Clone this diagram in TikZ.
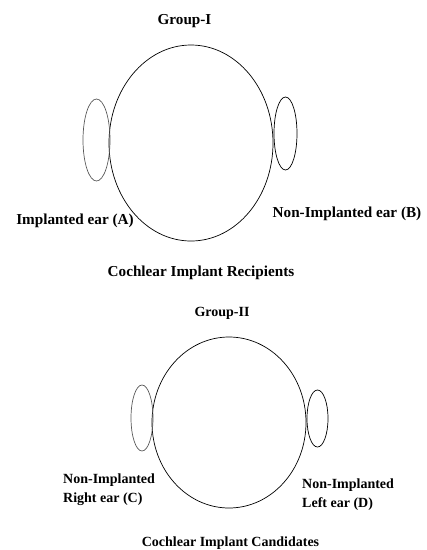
\documentclass[tikz,border=0pt]{standalone}
\usepackage{fontspec}
\setmainfont{Liberation Serif}
\usetikzlibrary{shapes.geometric}
\begin{document}
\begin{tikzpicture}[x=1pt,y=-1pt,
  head/.style={draw=black,line width=0.7pt,ellipse,inner sep=0pt},
  ear/.style={draw=black,line width=0.7pt,ellipse,inner sep=0pt},
  earL/.style={ear,draw=black!65},
  lblA/.style={font=\fontsize{15.2}{18}\selectfont\bfseries,inner sep=0pt},
  lblB/.style={font=\fontsize{14}{18.5}\selectfont\bfseries,inner sep=0pt,align=left}]
\useasboundingbox (0,0) rectangle (427,550);
% Group I
\node[lblA,anchor=base] (g1) at (184.5,24) {Group-I};
\node[head,minimum width=164pt,minimum height=196pt] (h1) at (191,143) {};
\node[earL,minimum width=27pt,minimum height=82pt] (ea) at (96.5,140) {};
\node[ear,minimum width=23pt,minimum height=73pt] (eb) at (285.5,133.5) {};
\node[lblA,anchor=base] (la) at (75,224) {Implanted ear (A)};
\node[lblA,anchor=base] (lb) at (347,217) {Non-Implanted ear (B)};
\node[lblA,anchor=base] (t1) at (201,276) {Cochlear Implant Recipients};
% Group II
\node[lblB,anchor=base] (g2) at (222,316) {Group-II};
\node[head,minimum width=154pt,minimum height=171pt] (h2) at (229,422.5) {};
\node[earL,minimum width=22pt,minimum height=66pt] (ec) at (142,418) {};
\node[ear,minimum width=21pt,minimum height=57pt] (ed) at (317.5,418.5) {};
\node[lblB,anchor=base west] (lc) at (63,502) {Non-Implanted\\Right ear (C)};
\node[lblB,anchor=base west] (ld) at (302,507) {Non-Implanted\\Left ear (D)};
\node[lblB,anchor=base] (t2) at (230.5,546) {Cochlear Implant Candidates};
\end{tikzpicture}
\end{document}
